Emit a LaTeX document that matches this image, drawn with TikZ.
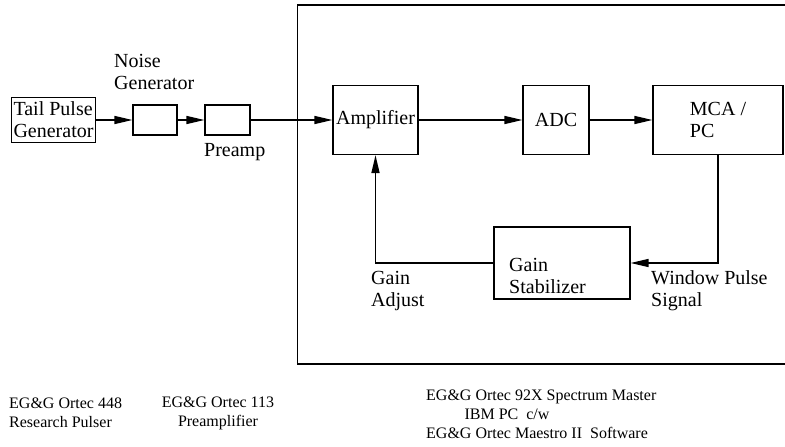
\documentclass[tikz,border=0pt]{standalone}
\usepackage{fontspec}
\setmainfont{Liberation Serif}
\usetikzlibrary{arrows.meta,positioning}

\begin{document}
\begin{tikzpicture}[x=1pt,y=-1pt,
    blk/.style={draw,line width=1.2pt,inner sep=2pt,align=left,font=\fontsize{20}{22}\selectfont},
    lbl/.style={inner sep=0pt,align=left,anchor=west,font=\fontsize{20}{22}\selectfont},
    note/.style={inner sep=0pt,font=\fontsize{16}{19}\selectfont},
    arr/.style={line width=1.5pt,-{Triangle[length=18pt,width=8pt]}}]
          \useasboundingbox (0,0) rectangle (785,447);
          % instrument blocks
          \node[blk,minimum width=83,minimum height=45] (tpg) at (53.5,120) {Tail Pulse\\Generator};
          \node[blk,minimum width=44,minimum height=30] (noise) at (155,120) {};
          \node[blk,minimum width=45,minimum height=30] (preamp) at (227.5,120) {};
          \node[blk,minimum width=85,minimum height=69] (amp) at (375.5,120) {Amplifier};
          \node[blk,minimum width=66,minimum height=69] (adc) at (556,120) {ADC};
          \node[blk,minimum width=130,minimum height=69] (mca) at (718,120) {MCA /\\PC};
          \node[blk,minimum width=136,minimum height=72] (gs) at (562,263) {};
          % labels
          \node[lbl] (gstext) at (509,276) {Gain\\Stabilizer};
          \node[lbl] (noiselbl) at (114,72) {Noise\\Generator};
          \node[lbl] (preamplbl) at (204,152) {Preamp};
          \node[lbl] (adjlbl) at (371,291) {Gain\\Adjust};
          \node[lbl] (winlbl) at (651,291) {Window Pulse\\Signal};
          % enclosure of the PC based system
          \draw[line width=1.2pt] (785,5) -- (297.5,5) -- (297.5,364) -- (785,364);
          % signal path
          \draw[arr] (tpg) -- (noise);
          \draw[arr] (noise) -- (preamp);
          \draw[arr] (preamp) -- (amp);
          \draw[arr] (amp) -- (adc);
          \draw[arr] (adc) -- (mca);
          \draw[arr] (mca.south) |- (gs.east);
          \draw[arr] (gs.west) -| (amp.south);
          % equipment list
          \node[note,align=left,anchor=west] (eq1) at (9,413) {EG\&G Ortec 448\\Research Pulser};
          \node[note,align=center] (eq2) at (218,413) {EG\&G Ortec 113\\Preamplifier};
          \node[note,align=left,anchor=west] (eq3) at (426,414) {EG\&G Ortec 92X Spectrum Master\\\hspace*{2.4em}IBM PC\enspace c/w\\EG\&G Ortec Maestro II\enspace Software};
        \end{tikzpicture}
\end{document}
